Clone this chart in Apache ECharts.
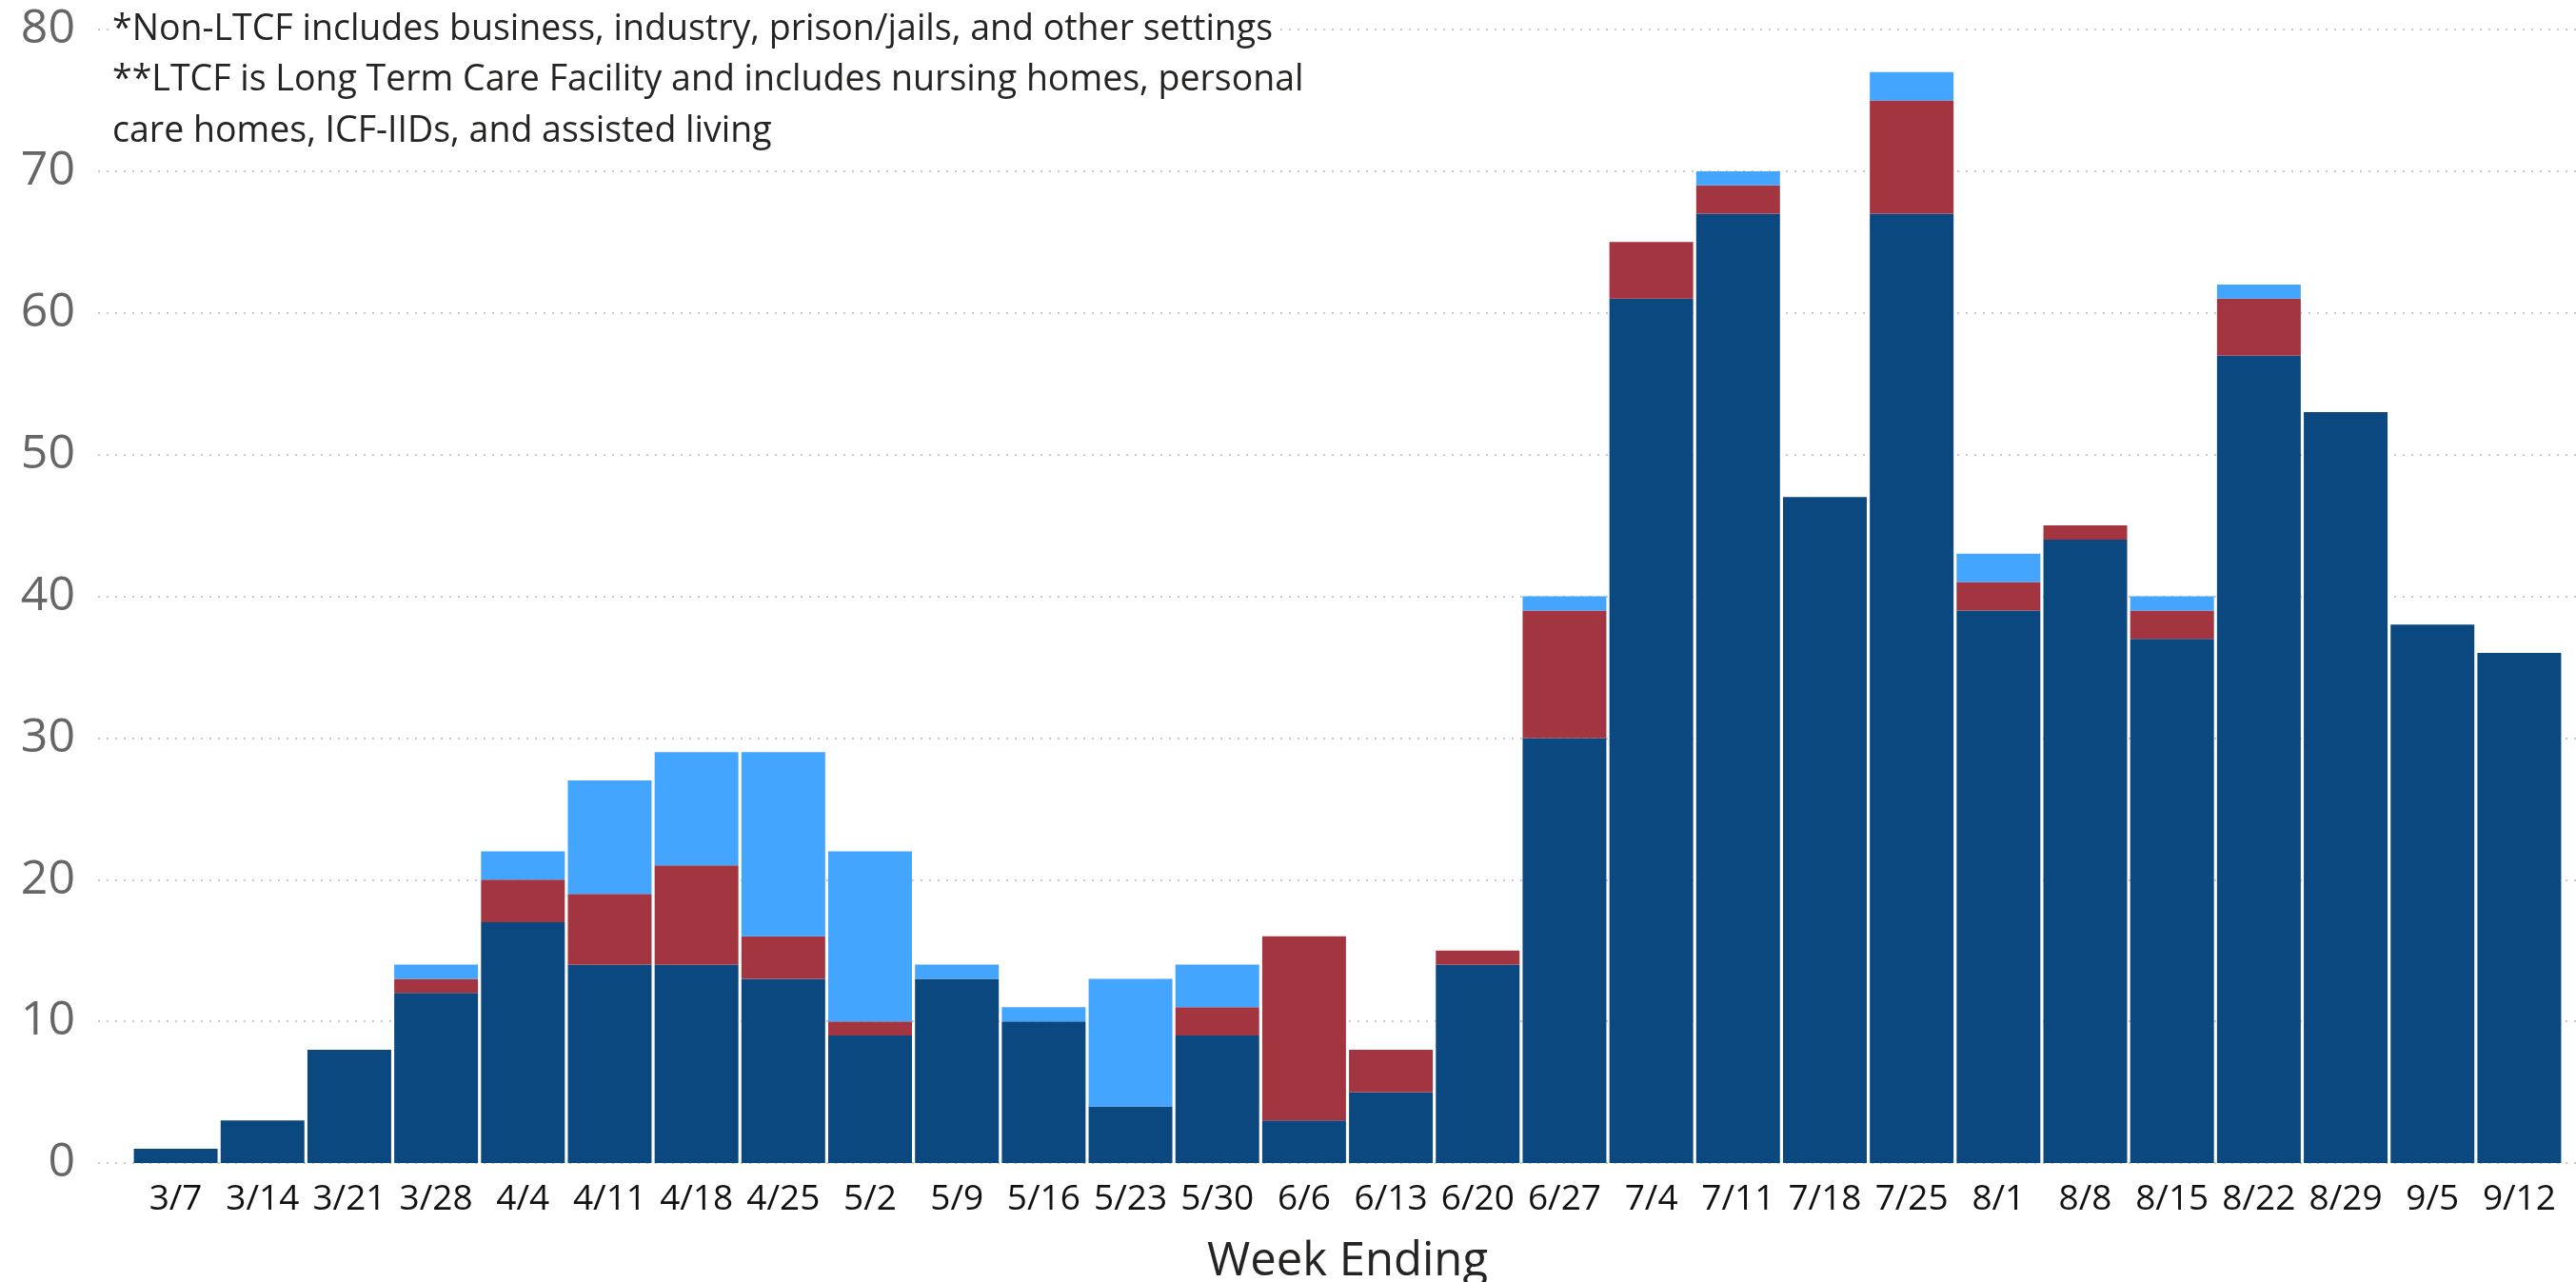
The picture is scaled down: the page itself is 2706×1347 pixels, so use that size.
<!DOCTYPE html>
<html>
<head>
<meta charset="utf-8">
<script src="https://cdn.jsdelivr.net/npm/echarts@6/dist/echarts.min.js"></script>
<style>
html,body{margin:0;padding:0;background:#fff;}
#chart{width:2706px;height:1347px;}
</style>
</head>
<body>
<div id="chart"></div>
<script>
const weeks = ['3/7','3/14','3/21','3/28','4/4','4/11','4/18','4/25','5/2','5/9','5/16','5/23','5/30','6/6','6/13','6/20','6/27','7/4','7/11','7/18','7/25','8/1','8/8','8/15','8/22','8/29','9/5','9/12'];
const seriesDark  = [1,3,8,12,17,14,14,13,9,13,10,4,9,3,5,14,30,61,67,47,67,39,44,37,57,53,38,36];
const seriesRed   = [0,0,0,1,3,5,7,3,1,0,0,0,2,13,3,1,9,4,2,0,8,2,1,2,4,0,0,0];
const seriesLight = [0,0,0,1,2,8,8,13,12,1,1,9,3,0,0,0,1,0,1,0,2,2,0,1,1,0,0,0];
const yTicks = [0,10,20,30,40,50,60,70,80];
const notes = [
  '*Non-LTCF includes business, industry, prison/jails, and other settings',
  '**LTCF is Long Term Care Facility and includes nursing homes, personal',
  'care homes, ICF-IIDs, and assisted living'
];

const chart = echarts.init(document.getElementById('chart'));
const font = '"Open Sans", "Noto Sans", sans-serif';
chart.setOption({
  animation: false,
  backgroundColor: '#fff',
  grid: [
    {left: 139, right: 14, top: 31, bottom: 125, outerBoundsMode: 'none', containLabel: false},
    {left: 103, right: 0, top: 31, bottom: 125, outerBoundsMode: 'none', containLabel: false}
  ],
  xAxis: [
    {
      type: 'category', gridIndex: 0, data: weeks,
      axisLine: {show: false}, axisTick: {show: false},
      axisLabel: {color: '#111', fontSize: 37, fontFamily: font, margin: 20, interval: 0},
      name: 'Week Ending', nameLocation: 'middle', nameGap: 80,
      nameTextStyle: {color: '#252423', fontSize: 49, fontFamily: font, fontWeight: 500}
    },
    {type: 'value', gridIndex: 1, show: false, min: 0, max: 1}
  ],
  yAxis: [
    {type: 'value', gridIndex: 0, min: 0, max: 80, interval: 10, show: false, splitLine: {show: false}},
    {
      type: 'value', gridIndex: 1, min: 0, max: 80, interval: 10,
      axisLine: {show: false}, axisTick: {show: false},
      axisLabel: {color: '#666', fontSize: 50, fontFamily: font, margin: 24,
        formatter: v => yTicks.includes(v) ? String(v) : ''},
      splitLine: {show: true, lineStyle: {color: '#c8c8c8', type: [2, 7], width: 2}}
    }
  ],
  series: [
    {name: 'Non-LTCF', type: 'bar', stack: 'total', data: seriesDark, xAxisIndex: 0, yAxisIndex: 0,
      barCategoryGap: '3.5%', itemStyle: {color: '#0b4880'}},
    {name: 'LTCF', type: 'bar', stack: 'total', data: seriesRed, xAxisIndex: 0, yAxisIndex: 0,
      barCategoryGap: '3.5%', itemStyle: {color: '#a33540'}},
    {name: 'Other', type: 'bar', stack: 'total', data: seriesLight, xAxisIndex: 0, yAxisIndex: 0,
      barCategoryGap: '3.5%', itemStyle: {color: '#44a5ff'}}
  ],
  graphic: notes.map((t, i) => ({
    type: 'text', left: 116, top: 12 + i * 53.5, z: 100,
    style: {text: t, fill: '#252423', fontSize: 37.5, fontFamily: font, backgroundColor: '#fff', padding: [0, 6, 0, 2]}
  }))
});
</script>
</body>
</html>
